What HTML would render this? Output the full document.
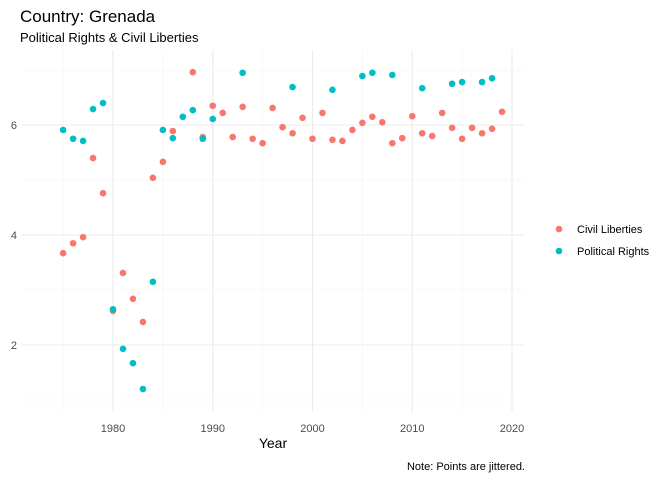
<!DOCTYPE html>
<html><head><meta charset="utf-8"><style>
body{margin:0;background:#fff;font-family:"Liberation Sans",sans-serif}
</style></head><body>
<svg width="672" height="480" xmlns="http://www.w3.org/2000/svg" font-family="Liberation Sans, sans-serif">
<text x="20" y="22" font-size="17" fill="#000">Country: Grenada</text>
<text x="20" y="42" font-size="13" fill="#000">Political Rights &amp; Civil Liberties</text>
<g id="grid"></g><g id="axes"></g><g id="pts"></g>
<text x="273" y="448" font-size="14" text-anchor="middle" fill="#000">Year</text>
<text x="525" y="470" font-size="11" text-anchor="end" fill="#000">Note: Points are jittered.</text>
<g>
<circle cx="559" cy="229" r="3.3" fill="#F8766D"/>
<text x="577" y="233" font-size="11" fill="#000">Civil Liberties</text>
<circle cx="559" cy="251" r="3.3" fill="#00BFC4"/>
<text x="577" y="255" font-size="11" fill="#000">Political Rights</text>
</g>
</svg>
<script>
const clYears=[1975,1976,1977,1978,1979,1980,1981,1982,1983,1984,1985,1986,1988,1989,1990,1991,1992,1993,1994,1995,1996,1997,1998,1999,2000,2001,2002,2003,2004,2005,2006,2007,2008,2009,2010,2011,2012,2013,2014,2015,2016,2017,2018,2019];
const clValues=[3.67,3.85,3.96,5.40,4.76,2.62,3.31,2.84,2.42,5.04,5.33,5.89,6.96,5.78,6.35,6.22,5.78,6.33,5.75,5.67,6.31,5.96,5.85,6.13,5.75,6.22,5.73,5.71,5.91,6.04,6.15,6.05,5.67,5.76,6.16,5.85,5.80,6.22,5.95,5.75,5.95,5.85,5.93,6.24];
const prYears=[1975,1976,1977,1978,1979,1980,1981,1982,1983,1984,1985,1986,1987,1988,1989,1990,1993,1998,2002,2005,2006,2008,2011,2014,2015,2017,2018];
const prValues=[5.91,5.75,5.71,6.29,6.40,2.65,1.93,1.67,1.20,3.15,5.91,5.76,6.15,6.27,5.75,6.11,6.95,6.69,6.64,6.89,6.95,6.91,6.67,6.75,6.78,6.78,6.85];
const xTicks=[1980,1990,2000,2010,2020];
const yTicks=[2,4,6];
const X=v=>113+(v-1980)*9.975;
const Y=v=>125-(v-6)*55;
const NS="http://www.w3.org/2000/svg";
const L=22,R=525,T=50,B=412;
function mk(g,tag,a){const e=document.createElementNS(NS,tag);for(const k in a)e.setAttribute(k,a[k]);document.getElementById(g).appendChild(e);return e;}
[1975,1985,1995,2005,2015].forEach(v=>{const e=mk('grid','line',{x1:X(v),x2:X(v),y1:T,y2:B,stroke:'#f2f2f2','stroke-width':0.6});

});
[1,3,5,7].forEach(v=>{const e=mk('grid','line',{x1:L,x2:R,y1:Y(v),y2:Y(v),stroke:'#f2f2f2','stroke-width':0.6});

});
xTicks.forEach(v=>{const e=mk('grid','line',{x1:X(v),x2:X(v),y1:T,y2:B,stroke:'#ebebeb','stroke-width':1.1});


const t=mk('axes','text',{x:X(v),y:432,'font-size':11,'text-anchor':'middle',fill:'#4d4d4d'});t.textContent=v;

});
yTicks.forEach(v=>{const e=mk('grid','line',{x1:L,x2:R,y1:Y(v),y2:Y(v),stroke:'#ebebeb','stroke-width':1.1});


const t=mk('axes','text',{x:17,y:Y(v)+4,'font-size':11,'text-anchor':'end',fill:'#4d4d4d'});t.textContent=v;

});
clYears.forEach((yr,i)=>{const c=mk('pts','circle',{cx:X(yr),cy:Y(clValues[i]),r:3.3,fill:'#F8766D'});

});
prYears.forEach((yr,i)=>{const c=mk('pts','circle',{cx:X(yr),cy:Y(prValues[i]),r:3.3,fill:'#00BFC4'});

});
</script>
</body></html>
